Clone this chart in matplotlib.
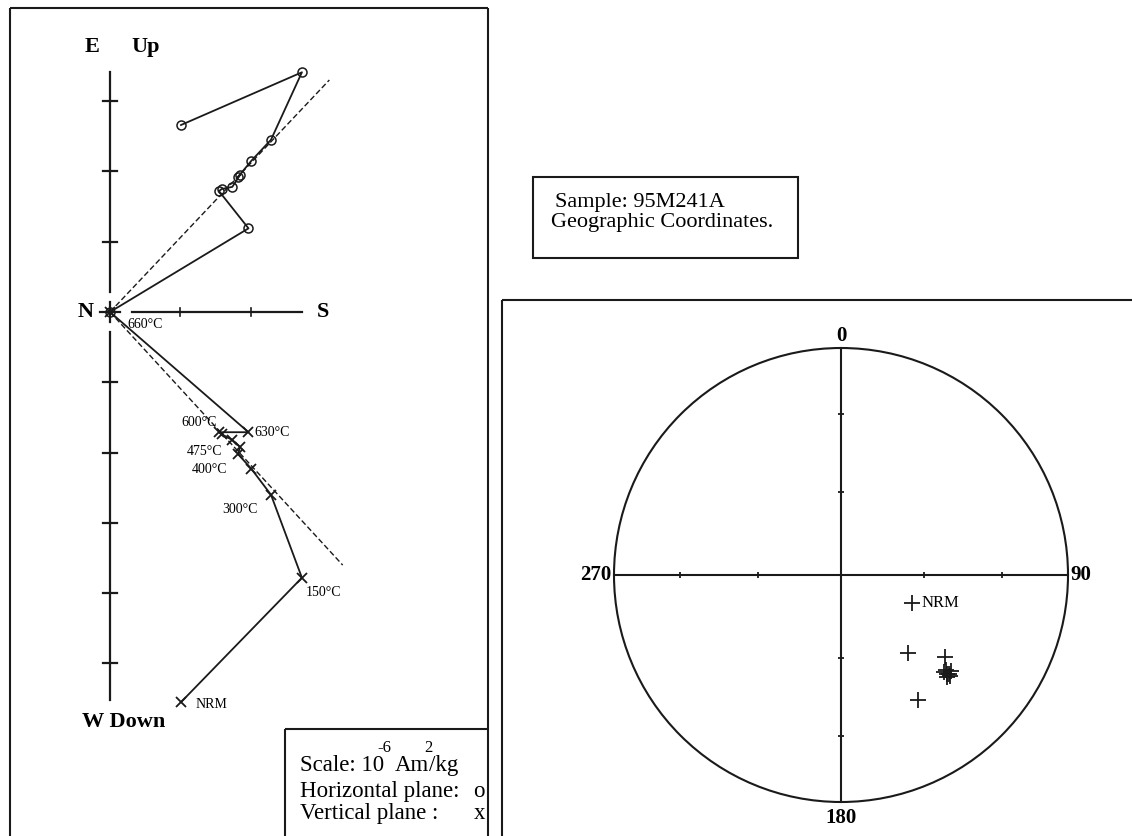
import numpy as np
import matplotlib.pyplot as plt
from matplotlib.patches import Circle, Rectangle

plt.rcParams['font.family'] = ['Liberation Serif', 'DejaVu Serif']

# demagnetisation steps
steps = ['NRM', '150°C', '300°C', '400°C', '475°C', '500°C', '550°C',
         '575°C', '600°C', '630°C', '660°C']
# Zijderveld components (scale 10^-6 Am2/kg), N-S (+S), E-W (+E), Up-Down (+Up)
ns = [1.01, 2.73, 2.29, 2.01, 1.82, 1.85, 1.74, 1.59, 1.55, 1.97, 0.0]
ew = [2.66, 3.41, 2.45, 2.15, 1.92, 1.95, 1.78, 1.75, 1.72, 1.19, 0.0]
ud = [-5.55, -3.78, -2.60, -2.23, -2.02, -1.92, -1.82, -1.74, -1.71, -1.71, 0.0]
# fitted lines (end points, through origin)
fit_h = (3.12, 3.30)
fit_v = (3.31, -3.60)

# stereonet directions (lower hemisphere)
dec = [111.5, 128.3, 132.1, 132.8, 133.3, 131.1, 133.9, 132.5, 133.0, 148.4, 139.3]
inc = [62.5, 41.3, 37.7, 34.8, 37.7, 35.9, 35.5, 35.8, 36.4, 35.6, 52.6]

W, H = 1132, 836
fig = plt.figure(figsize=(W / 100, H / 100), dpi=100)

# background axes in pixel units for frames and boxes
bg = fig.add_axes([0, 0, 1, 1])
bg.set_xlim(0, W)
bg.set_ylim(H, 0)
bg.axis('off')
lc = '#1a1a1a'
frame = dict(color=lc, lw=1.5, solid_capstyle='butt')
bg.plot([10, 488], [8, 8], **frame)
bg.plot([10, 10], [8, 840], **frame)
bg.plot([488, 488], [8, 840], **frame)
bg.plot([285, 488], [729, 729], **frame)
bg.plot([285, 285], [729, 840], **frame)
bg.plot([502, 1135], [300, 300], **frame)
bg.plot([502, 502], [300, 840], **frame)
bg.add_patch(Rectangle((533, 177), 265, 81, fill=False, ec=lc, lw=1.5))

bg.text(555, 202, 'Sample: 95M241A', fontsize=16, va='center', ha='left')
bg.text(551, 223, 'Geographic Coordinates.', fontsize=16, va='center', ha='left')

fs = 16.5
bg.text(300, 771, 'Scale: 10', fontsize=fs, va='baseline')
bg.text(395, 771, 'Am', fontsize=fs, va='baseline')
bg.text(429, 771, '/kg', fontsize=fs, va='baseline')
bg.text(377, 752, '-6', fontsize=12, va='baseline')
bg.text(424, 752, '2', fontsize=12, va='baseline')
bg.text(300, 797, 'Horizontal plane:', fontsize=fs, va='baseline')
bg.text(485, 797, 'o', fontsize=fs, va='baseline', ha='right')
bg.text(300, 819, 'Vertical plane :', fontsize=fs, va='baseline')
bg.text(485, 819, 'x', fontsize=fs, va='baseline', ha='right')

# ---- Zijderveld diagram ----
u = 70.3          # pixels per unit
ox, oy = 110, 312  # origin in pixels
xl = (-1.0, 4.0)
yl = (-6.0, 4.0)
left = (ox + xl[0] * u) / W
bottom = 1 - (oy - yl[0] * u) / H
ax = fig.add_axes([left, bottom, (xl[1] - xl[0]) * u / W, (yl[1] - yl[0]) * u / H])
ax.set_xlim(*xl)
ax.set_ylim(*yl)
ax.axis('off')

alw = 1.6
ax.plot([0, 0], [0.29, 3.41], color=lc, lw=alw)
ax.plot([0, 0], [-0.29, -5.52], color=lc, lw=alw)
ax.plot([0.31, 2.73], [0, 0], color=lc, lw=alw)
ax.plot([-0.14, 0.14], [0, 0], color=lc, lw=alw)
ax.plot([0, 0], [-0.14, 0.14], color=lc, lw=alw)
for t in [1, 2, 3, -1, -2, -3, -4, -5]:
    ax.plot([-0.1, 0.1], [t, t], color=lc, lw=alw)
for t in [1, 2]:
    ax.plot([t, t], [-0.06, 0.06], color=lc, lw=1.2)

ax.plot([0, fit_h[0]], [0, fit_h[1]], color=lc, lw=1.0, ls=(0, (4, 2)))
ax.plot([0, fit_v[0]], [0, fit_v[1]], color=lc, lw=1.0, ls=(0, (4, 2)))

ax.plot(ns, ew, color=lc, lw=1.3, marker='o', ms=6.5, mfc='none', mec=lc, mew=1.1)
ax.plot(ns, ud, color=lc, lw=1.3, marker='x', ms=6.5, mec=lc, mew=1.3)

lab_off = {'660°C': (17, -13, 'left'), '600°C': (-2, 10, 'right'),
           '630°C': (6, 0, 'left'), '475°C': (-16, 3, 'right'),
           '400°C': (-24, -1, 'right'), '300°C': (-13, -15, 'right'),
           '150°C': (4, -15, 'left'), 'NRM': (15, -2, 'left')}
for i, s in enumerate(steps):
    if s in lab_off:
        dx, dy, ha = lab_off[s]
        ax.annotate(s, (ns[i], ud[i]), xytext=(dx, dy), textcoords='offset pixels',
                    fontsize=10, ha=ha, va='center')

bold = dict(fontsize=16, fontweight='bold', va='center')
ax.text(-0.36, 3.77, 'E', ha='left', **bold)
ax.text(0.31, 3.77, 'Up', ha='left', **bold)
ax.text(-0.34, 0.0, 'N', ha='center', **bold)
ax.text(3.03, 0.0, 'S', ha='center', **bold)
ax.text(-0.40, -5.83, 'W Down', ha='left', **bold)

# ---- equal-area stereonet ----
R = 227
cx, cy = 841, 575
m = 1.2
sx = fig.add_axes([(cx - m * R) / W, 1 - (cy + m * R) / H, 2 * m * R / W, 2 * m * R / H])
sx.set_xlim(-m, m)
sx.set_ylim(-m, m)
sx.axis('off')
sx.add_patch(Circle((0, 0), 1, fill=False, ec=lc, lw=1.5))
sx.plot([-1, 1], [0, 0], color=lc, lw=1.5)
sx.plot([0, 0], [-1, 1], color=lc, lw=1.5)
for i_t in [30, 60]:
    r = np.sqrt(2) * np.sin(np.radians(90 - i_t) / 2)
    for sgn in [-1, 1]:
        sx.plot([sgn * r], [0], marker='|', ms=4, mew=1.3, color=lc)
        sx.plot([0], [sgn * r], marker='_', ms=4, mew=1.3, color=lc)

snum = dict(fontsize=15, fontweight='bold')
sx.text(0, 1.008, '0', ha='center', va='bottom', **snum)
sx.text(0, -1.025, '180', ha='center', va='top', **snum)
sx.text(-1.01, 0, '270', ha='right', va='center', **snum)
sx.text(1.01, 0, '90', ha='left', va='center', **snum)

d = np.radians(dec)
rr = np.sqrt(2) * np.sin(np.radians(90 - np.array(inc)) / 2)
px = rr * np.sin(d)
py = rr * np.cos(d)
sx.plot(px, py, ls='none', marker='+', ms=11, mew=1.3, color=lc)
sx.text(px[0] + 0.04, py[0], 'NRM', fontsize=12, va='center', ha='left')

fig.savefig('out.png', dpi=100)
